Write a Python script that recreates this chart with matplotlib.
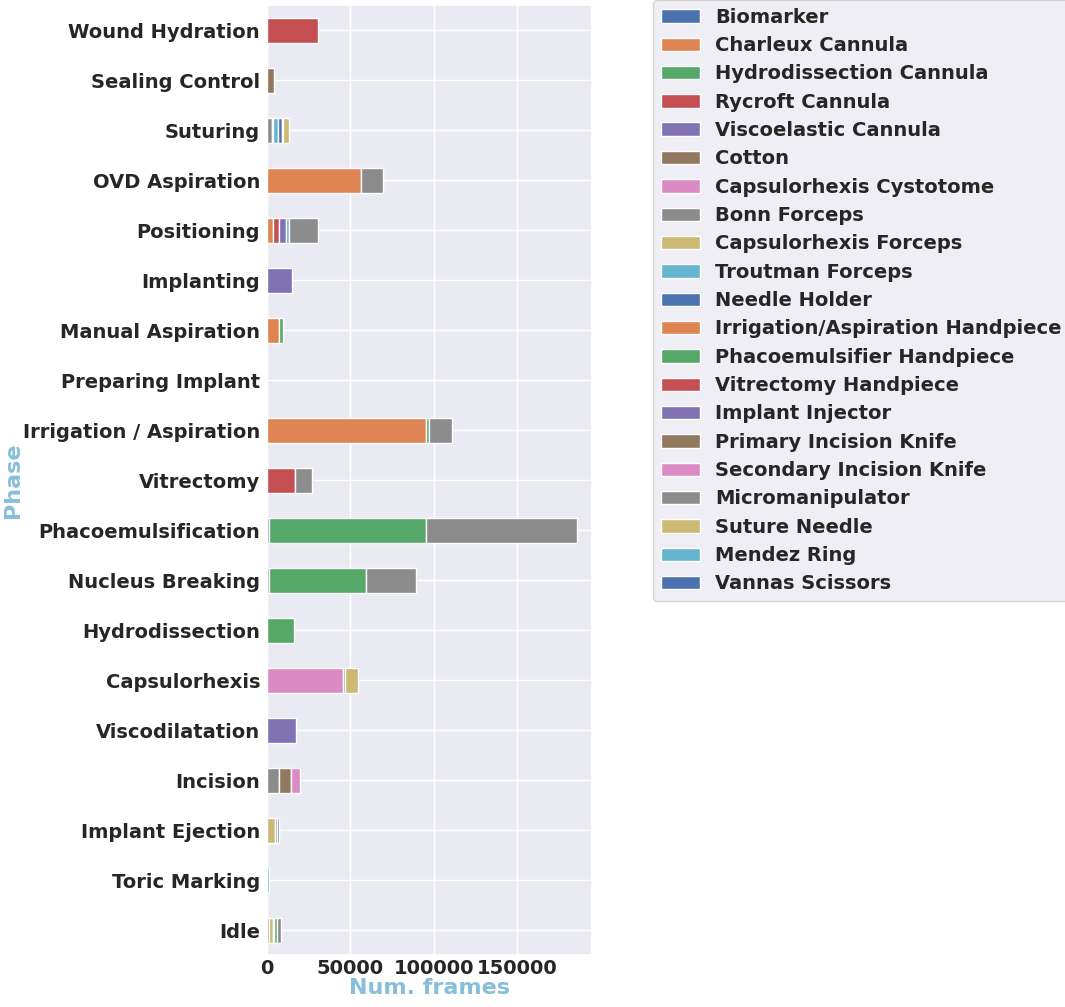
import numpy as np
import matplotlib
matplotlib.use("Agg")
import matplotlib.pyplot as plt
import seaborn as sns

sns.set_theme(style="darkgrid", palette="deep")
plt.rcParams['font.family'] = ['DejaVu Sans']

# phases, bottom to top
phases = ["Idle", "Toric Marking", "Implant Ejection", "Incision", "Viscodilatation",
          "Capsulorhexis", "Hydrodissection", "Nucleus Breaking", "Phacoemulsification",
          "Vitrectomy", "Irrigation / Aspiration", "Preparing Implant", "Manual Aspiration",
          "Implanting", "Positioning", "OVD Aspiration", "Suturing", "Sealing Control",
          "Wound Hydration"]

instruments = ["Biomarker", "Charleux Cannula", "Hydrodissection Cannula", "Rycroft Cannula",
               "Viscoelastic Cannula", "Cotton", "Capsulorhexis Cystotome", "Bonn Forceps",
               "Capsulorhexis Forceps", "Troutman Forceps", "Needle Holder",
               "Irrigation/Aspiration Handpiece", "Phacoemulsifier Handpiece",
               "Vitrectomy Handpiece", "Implant Injector", "Primary Incision Knife",
               "Secondary Incision Knife", "Micromanipulator", "Suture Needle",
               "Mendez Ring", "Vannas Scissors"]

# frames per phase (same order as phases)
biomarker =      [0, 0, 0, 0, 0, 0, 0, 0, 0, 0, 0, 0, 0, 0, 0, 0, 0, 0, 0]
charleux =       [0, 0, 0, 0, 0, 0, 0, 0, 0, 0, 0, 0, 7000, 0, 3300, 0, 0, 0, 0]
hydro_cannula =  [0, 0, 0, 0, 0, 0, 15900, 0, 0, 0, 0, 0, 2500, 0, 0, 0, 0, 0, 0]
rycroft =        [0, 0, 0, 0, 0, 0, 0, 0, 0, 0, 0, 0, 0, 0, 3600, 0, 0, 0, 30500]
visco_cannula =  [0, 0, 0, 0, 17100, 0, 0, 0, 900, 0, 0, 0, 0, 0, 4200, 0, 0, 0, 0]
cotton =         [0, 0, 0, 0, 0, 0, 0, 0, 0, 0, 0, 0, 0, 0, 0, 0, 0, 4000, 0]
cystotome =      [0, 0, 0, 0, 0, 45300, 0, 0, 0, 0, 0, 0, 0, 0, 0, 0, 0, 0, 0]
bonn =           [1200, 0, 0, 6900, 0, 1200, 0, 900, 0, 0, 0, 0, 0, 0, 0, 0, 2900, 0, 0]
caps_forceps =   [2400, 0, 5000, 0, 0, 8200, 0, 0, 0, 0, 0, 0, 0, 0, 0, 0, 400, 0, 0]
troutman =       [600, 0, 0, 0, 0, 0, 0, 0, 0, 0, 0, 0, 0, 0, 1800, 0, 3500, 0, 0]
needle_holder =  [0, 0, 0, 0, 0, 0, 0, 0, 0, 0, 0, 0, 0, 0, 0, 0, 2200, 0, 0]
ia_handpiece =   [0, 0, 0, 0, 0, 0, 0, 0, 0, 0, 95100, 0, 0, 0, 0, 56500, 0, 0, 0]
phaco_handpiece = [1500, 0, 0, 0, 0, 0, 0, 58600, 94200, 0, 2000, 0, 0, 0, 0, 0, 0, 0, 0]
vitrectomy =     [0, 0, 0, 0, 0, 0, 0, 0, 0, 16900, 0, 0, 0, 0, 0, 0, 0, 0, 0]
injector =       [0, 0, 0, 0, 0, 0, 0, 0, 0, 0, 0, 0, 0, 15000, 0, 0, 0, 0, 0]
primary_knife =  [0, 0, 0, 7300, 0, 0, 0, 0, 0, 0, 0, 0, 0, 0, 0, 0, 0, 0, 0]
secondary_knife = [0, 0, 0, 5700, 0, 0, 0, 0, 0, 0, 0, 0, 0, 0, 0, 0, 500, 0, 0]
micromanip =     [2500, 0, 700, 0, 0, 0, 0, 29600, 90400, 10200, 13600, 0, 0, 0, 17500, 12800, 0, 0, 0]
suture_needle =  [0, 0, 0, 0, 0, 0, 0, 0, 0, 0, 0, 0, 0, 0, 0, 0, 3500, 0, 0]
mendez =         [0, 900, 0, 0, 0, 0, 0, 0, 0, 0, 0, 0, 0, 0, 0, 0, 0, 0, 0]
vannas =         [0, 0, 1300, 0, 0, 0, 0, 0, 0, 0, 0, 0, 0, 0, 0, 0, 0, 0, 0]

series = [biomarker, charleux, hydro_cannula, rycroft, visco_cannula, cotton, cystotome,
          bonn, caps_forceps, troutman, needle_holder, ia_handpiece, phaco_handpiece,
          vitrectomy, injector, primary_knife, secondary_knife, micromanip, suture_needle,
          mendez, vannas]

fig = plt.figure(figsize=(10.65, 10.07), dpi=100)
ax = fig.add_axes([267 / 1065, 1 - 955 / 1007, (592 - 267) / 1065, (955 - 5) / 1007])

colors = sns.color_palette("deep", 10)
y = np.arange(len(phases))
left = np.zeros(len(phases))
for i, (name, vals) in enumerate(zip(instruments, series)):
    vals = np.array(vals, dtype=float)
    nz = vals > 0
    # empty bar keeps the legend entry
    ax.barh(y[nz], vals[nz], height=0.5, left=left[nz], color=colors[i % 10], label=name,
            edgecolor="white", linewidth=1.0)
    left += vals

ax.set_ylim(-0.5, len(phases) - 0.5)
ax.set_xlim(0, left.max() * 1.05)
ax.set_xticks([0, 50000, 100000, 150000])
ax.set_yticks(y)
ax.set_yticklabels(phases)
for lab in ax.get_xticklabels() + ax.get_yticklabels():
    lab.set_fontweight("bold")
    lab.set_fontsize(14)
ax.tick_params(axis="both", length=0)
ax.tick_params(axis="y", pad=5)
ax.tick_params(axis="x", pad=3)

label_col = "#86bedc"
ax.set_xlabel("Num. frames", fontsize=16, fontweight="bold", color=label_col, labelpad=0)
ax.set_ylabel("Phase", fontsize=16, fontweight="bold", color=label_col)
ax.yaxis.set_label_coords(-0.75, 0.5)

leg = ax.legend(loc="upper left", bbox_to_anchor=(653 / 1065, 1.0), bbox_transform=fig.transFigure,
                prop={"weight": "bold", "size": 14}, frameon=True,
                labelspacing=0.48, handlelength=2.0, borderaxespad=0)

fig.savefig("out.png", dpi=100)
